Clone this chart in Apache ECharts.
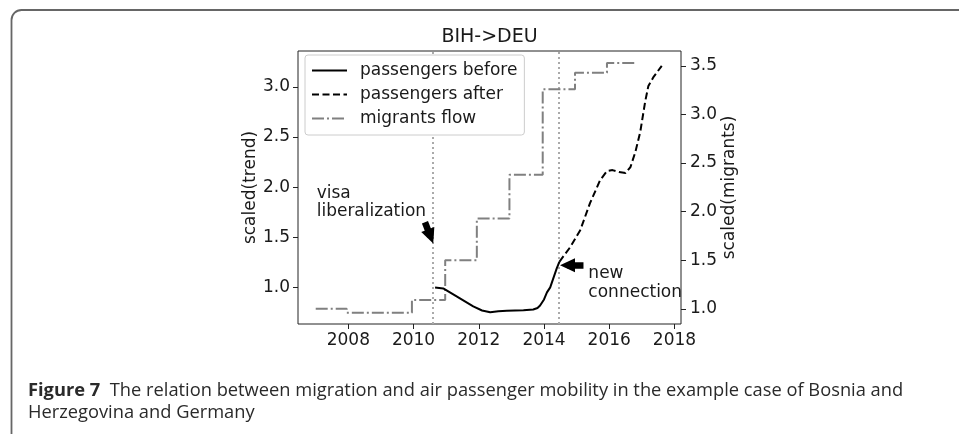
<!DOCTYPE html>
<html>
<head>
<meta charset="utf-8">
<script src="https://cdn.jsdelivr.net/npm/echarts@6/dist/echarts.min.js"></script>
<style>
  html, body { margin: 0; padding: 0; background: #fff; }
  #chart { width: 959px; height: 434px; }
</style>
</head>
<body>
<div id="chart"></div>
<script>
// passengers (left axis)
const beforeYears = [2010.66, 2010.91, 2011.32, 2011.83, 2012.1, 2012.35, 2012.6, 2012.86, 2013.37, 2013.67, 2013.8, 2013.88, 2014.0, 2014.09, 2014.19, 2014.39, 2014.47];
const beforeValues = [1.00, 0.99, 0.91, 0.81, 0.77, 0.752, 0.762, 0.768, 0.772, 0.78, 0.795, 0.82, 0.88, 0.95, 1.0, 1.19, 1.255];
const afterYears = [2014.47, 2014.8, 2015.11, 2015.41, 2015.72, 2015.93, 2016.1, 2016.3, 2016.5, 2016.65, 2016.8, 2016.95, 2017.1, 2017.2, 2017.36, 2017.61];
const afterValues = [1.255, 1.40, 1.57, 1.84, 2.07, 2.16, 2.17, 2.15, 2.14, 2.2, 2.35, 2.55, 2.85, 3.01, 3.10, 3.21];
// migrants flow (right axis), step changes
const migYears = [2007.0, 2007.95, 2009.95, 2010.97, 2011.94, 2012.94, 2013.96, 2014.95, 2015.93, 2016.85];
const migValues = [1.00, 0.96, 1.09, 1.50, 1.93, 2.38, 3.26, 3.43, 3.53, 3.53];

const xTicks = [2008, 2010, 2012, 2014, 2016, 2018];
const leftTicks = [1.0, 1.5, 2.0, 2.5, 3.0];
const rightTicks = [1.0, 1.5, 2.0, 2.5, 3.0, 3.5];
const eventYears = [2010.59, 2014.44];

// annotations: [tail, head centre] in data coords (left axis)
const visaArrow = [[2010.35, 1.65], [2010.52, 1.508]];
const newArrow = [[2015.21, 1.222], [2014.72, 1.222]];
const visaText = [2007.03, 1.845];
const newText = [2015.36, 1.043];

const zip = (xs, ys) => xs.map((x, i) => [x, ys[i]]);
const FONT = "DejaVu Sans";
const FS = 17;

const chart = echarts.init(document.getElementById("chart"));

const textMark = (coord, text) => ({
  coord: coord,
  symbol: "circle",
  symbolSize: 0,
  label: {
    show: true,
    formatter: text,
    position: "right",
    distance: 0,
    align: "left",
    verticalAlign: "middle",
    fontFamily: FONT,
    fontSize: FS,
    lineHeight: 18.5,
    color: "#1a1a1a"
  }
});

chart.setOption({
  animation: false,
  backgroundColor: "#fff",
  title: {
    text: "BIH->DEU",
    left: 489.5,
    top: 28,
    padding: 0,
    textAlign: "center",
    textStyle: { fontFamily: FONT, fontSize: 19, fontWeight: "normal", color: "#1a1a1a" }
  },
  grid: {
    left: 298,
    right: 278,
    top: 51,
    bottom: 110,
    show: true,
    borderColor: "#222",
    borderWidth: 1,
    backgroundColor: "transparent"
  },
  legend: {
    orient: "vertical",
    left: 305,
    top: 55,
    zlevel: 1,
    z: 20,
    padding: [7, 7, 8, 6],
    itemWidth: 35,
    itemHeight: 18,
    itemGap: 7,
    backgroundColor: "#ffffff",
    borderColor: "#cccccc",
    borderWidth: 1,
    borderRadius: 3,
    itemStyle: { opacity: 0 },
    textStyle: { fontFamily: FONT, fontSize: FS, color: "#1a1a1a", padding: [0, 0, 0, 8] },
    data: ["passengers before", "passengers after", "migrants flow"]
  },
  xAxis: {
    type: "value",
    min: 2006.457,
    max: 2018.2,
    axisLine: { show: false },
    splitLine: { show: false },
    axisTick: { show: true, length: 5, customValues: xTicks, lineStyle: { color: "#222" } },
    axisLabel: {
      customValues: xTicks,
      formatter: v => String(v),
      margin: 8,
      fontFamily: FONT,
      fontSize: FS,
      color: "#1a1a1a"
    }
  },
  yAxis: [
    {
      type: "value",
      min: 0.635,
      max: 3.358,
      name: "scaled(trend)",
      nameLocation: "middle",
      nameRotate: 90,
      nameGap: 38,
      nameTextStyle: { fontFamily: FONT, fontSize: FS, color: "#1a1a1a" },
      axisLine: { show: false },
      splitLine: { show: false },
      axisTick: { show: true, length: 5, customValues: leftTicks, lineStyle: { color: "#222" } },
      axisLabel: {
        customValues: leftTicks,
        formatter: v => v.toFixed(1),
        margin: 8,
        fontFamily: FONT,
        fontSize: FS,
        color: "#1a1a1a"
      }
    },
    {
      type: "value",
      position: "right",
      min: 0.843,
      max: 3.654,
      alignTicks: false,
      name: "scaled(migrants)",
      nameLocation: "middle",
      nameRotate: 90,
      nameGap: 40,
      nameTextStyle: { fontFamily: FONT, fontSize: FS, color: "#1a1a1a" },
      axisLine: { show: false },
      splitLine: { show: false },
      axisTick: { show: true, length: 5, customValues: rightTicks, lineStyle: { color: "#222" } },
      axisLabel: {
        customValues: rightTicks,
        formatter: v => v.toFixed(1),
        margin: 9,
        fontFamily: FONT,
        fontSize: FS,
        color: "#1a1a1a"
      }
    }
  ],
  series: [
    {
      name: "passengers before",
      type: "line",
      yAxisIndex: 0,
      symbol: "none",
      color: "#000",
      lineStyle: { color: "#000", width: 2 },
      data: zip(beforeYears, beforeValues),
      z: 3,
      markLine: {
        silent: true,
        z: 1,
        symbol: "none",
        label: { show: false },
        lineStyle: { color: "#aaaaaa", type: [2, 3], width: 2 },
        data: eventYears.map(y => ({ xAxis: y }))
      }
    },
    {
      name: "passengers after",
      type: "line",
      yAxisIndex: 0,
      symbol: "none",
      color: "#000",
      lineStyle: { color: "#000", width: 2, type: [7, 3.5] },
      data: zip(afterYears, afterValues),
      z: 3,
      markLine: {
        silent: true,
        symbol: ["none", "triangle"],
        symbolSize: [14, 15],
        label: { show: false },
        lineStyle: { color: "#000", type: "solid", width: 6.5 },
        itemStyle: { color: "#000" },
        data: [
          [{ coord: visaArrow[0] }, { coord: visaArrow[1] }],
          [{ coord: newArrow[0] }, { coord: newArrow[1] }]
        ]
      },
      markPoint: {
        silent: true,
        data: [
          textMark(visaText, "visa\nliberalization"),
          textMark(newText, "new\nconnection")
        ]
      }
    },
    {
      name: "migrants flow",
      type: "line",
      yAxisIndex: 1,
      step: "end",
      symbol: "none",
      color: "#808080",
      lineStyle: { color: "#808080", width: 2, type: [12, 3, 2, 3] },
      data: zip(migYears, migValues),
      z: 2
    }
  ],
  graphic: [
    {
      type: "rect",
      silent: true,
      shape: { x: 11.5, y: 10, width: 1000, height: 500, r: 10 },
      style: { fill: "none", stroke: "#666", lineWidth: 1.8 }
    },
    {
      // opaque backing under the legend box so the event line stays hidden there
      type: "rect",
      silent: true,
      zlevel: 1,
      z: 0,
      shape: { x: 306, y: 56, width: 216, height: 77, r: 3 },
      style: { fill: "#ffffff" }
    },
    {
      type: "text",
      left: 28,
      top: 380,
      silent: true,
      style: {
        text: "{b|Figure 7}  The relation between migration and air passenger mobility in the example case of Bosnia and\nHerzegovina and Germany",
        fontFamily: "Open Sans",
        fontSize: 18.3,
        lineHeight: 22,
        fill: "#2a2a2a",
        rich: { b: { fontWeight: "bold", fontFamily: "Open Sans", fontSize: 18.3, fill: "#2a2a2a" } }
      }
    }
  ]
});
</script>
</body>
</html>
